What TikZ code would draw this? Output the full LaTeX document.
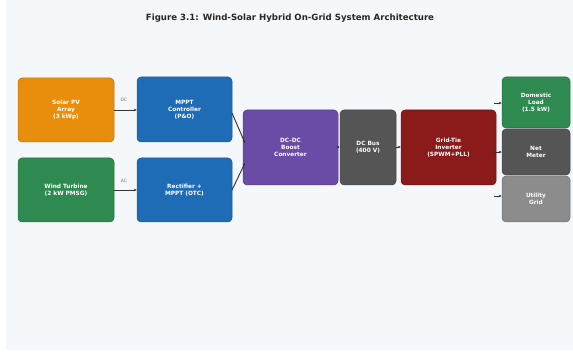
\documentclass[tikz,border=0pt]{standalone}
\usepackage{fontspec}
\setmainfont{DejaVu Sans}
\usetikzlibrary{arrows.meta}
\definecolor{bgc}{HTML}{F4F8FB}
\definecolor{corange}{HTML}{E88E0C}
\definecolor{cblue}{HTML}{1F6CB6}
\definecolor{cgreen}{HTML}{2E8A50}
\definecolor{cpurple}{HTML}{6A4CA6}
\definecolor{cgray}{HTML}{555555}
\definecolor{cred}{HTML}{8B1A1A}
\definecolor{clgray}{HTML}{8C8C8C}
\definecolor{cline}{HTML}{333333}
\tikzset{
  x=1pt, y=-1pt,
  blk/.style={draw=#1!80!black, line width=0.5pt, fill=#1, rounded corners=4pt, text=white,
     font=\fontsize{5.8}{7}\selectfont\bfseries, align=center, inner sep=0pt},
  conn/.style={draw=cline, line width=0.9pt, -{Stealth[length=3pt,width=2.6pt]}},
  lbl/.style={text=black!55, font=\fontsize{4.5}{5.5}\selectfont}
}
\newcommand{\blkat}[7]{% name, x1,y1,x2,y2, color, text
  \node[blk=#6, minimum width=#4pt-#2pt, minimum height=#5pt-#3pt] (#1) at ({(#2+#4)/2},{(#3+#5)/2}) {#7};}
\begin{document}
\begin{tikzpicture}
\useasboundingbox (0,0) rectangle (573,352);
\fill[white] (0,0) rectangle (573,352);
\fill[bgc] (6,0) rectangle (573,350);
\node[font=\fontsize{8.6}{10}\selectfont\bfseries, text=black!85] (title) at (290,18) {Figure 3.1: Wind-Solar Hybrid On-Grid System Architecture};
\blkat{pv}{18}{78}{114}{142}{corange}{Solar PV\\Array\\(3 kWp)}
\blkat{mppt}{137}{77}{232}{142}{cblue}{MPPT\\Controller\\(P\&O)}
\blkat{wt}{18}{158}{114}{222}{cgreen}{Wind Turbine\\(2 kW PMSG)}
\blkat{rect}{137}{158}{232}{222}{cblue}{Rectifier +\\MPPT (OTC)}
\blkat{boost}{243}{110}{338}{185}{cpurple}{DC-DC\\Boost\\Converter}
\blkat{bus}{340}{110}{396}{185}{cgray}{DC Bus\\(400 V)}
\blkat{inv}{401}{110}{496}{185}{cred}{Grid-Tie\\Inverter\\(SPWM+PLL)}
\blkat{load}{502}{77}{570}{128}{cgreen}{Domestic\\Load\\(1.5 kW)}
\blkat{meter}{502}{129}{570}{175}{cgray}{Net\\Meter}
\blkat{grid}{502}{176}{570}{222}{clgray}{Utility\\Grid}
\coordinate (o1) at (494,103);
\coordinate (o2) at (494,152);
\coordinate (o3) at (494,196);
\draw[conn] (pv.east |- 0,110) -- (mppt.west |- 0,110);
\node[lbl] (dcl) at (124,100) {DC};
\draw[conn] (wt.east |- 0,190) -- (rect.west |- 0,190);
\node[lbl] (acl) at (124,181) {AC};
\draw[conn] (232,113) -- (245,143);
\draw[conn] (232,190) -- (245,163);
\draw[conn] (boost.east |- 0,147) -- (bus.west |- 0,147);
\draw[conn] (bus.east |- 0,147) -- (inv.west |- 0,147);
\draw[conn] (o1) -- (load.west |- o1);
\draw[conn] (o2) -- (meter.west |- o2);
\draw[conn] (o3) -- (grid.west |- o3);
\end{tikzpicture}
\end{document}
